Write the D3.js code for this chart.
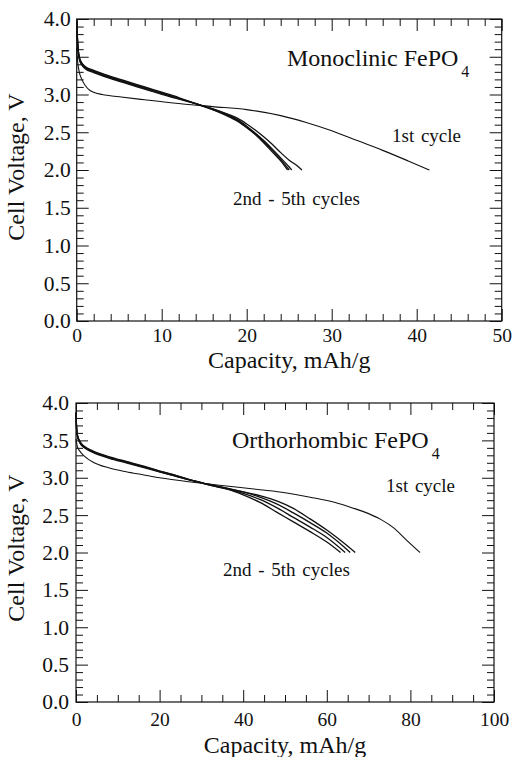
<!DOCTYPE html>
<html>
<head>
<meta charset="utf-8">
<script src="https://cdn.jsdelivr.net/npm/d3@7"></script>
<style>
  body { margin: 0; background: #fff; }
  svg { display: block; font-family: "Liberation Serif", "Times New Roman", serif; }
</style>
</head>
<body>
<svg id="chart" width="516" height="757"></svg>
<script>
// Monoclinic FePO4 (top panel)
const monoCap1 = [0, 0.1, 0.3, 0.6, 1, 1.5, 2, 3, 5, 8, 12, 16, 20, 24, 27, 30, 33, 36, 39, 41.5];
const monoV1   = [3.62, 3.45, 3.30, 3.20, 3.12, 3.06, 3.03, 3.00, 2.97, 2.93, 2.88, 2.84, 2.80, 2.72, 2.63, 2.52, 2.39, 2.26, 2.12, 2.00];

const monoCap2 = [0, 0.1, 0.3, 0.6, 1, 2, 4, 6, 8, 10, 12, 14, 16, 18, 19, 20, 21, 22, 23, 24, 25, 26, 26.5];
const monoV2   = [3.98, 3.68, 3.47, 3.39, 3.34, 3.29, 3.21, 3.14, 3.07, 3.00, 2.94, 2.88, 2.81, 2.73, 2.68, 2.61, 2.53, 2.44, 2.34, 2.23, 2.13, 2.05, 2.00];
const monoCap3 = [0, 0.1, 0.3, 0.6, 1, 2, 4, 6, 8, 10, 12, 14, 16, 18, 19, 20, 21, 22, 23, 24, 25, 25.3];
const monoV3   = [3.98, 3.70, 3.48, 3.40, 3.35, 3.30, 3.22, 3.15, 3.08, 3.01, 2.95, 2.88, 2.81, 2.72, 2.66, 2.58, 2.49, 2.39, 2.28, 2.16, 2.04, 2.00];
const monoCap4 = [0, 0.1, 0.3, 0.6, 1, 2, 4, 6, 8, 10, 12, 14, 16, 18, 19, 20, 21, 22, 23, 24, 25.0];
const monoV4   = [3.97, 3.71, 3.49, 3.41, 3.36, 3.31, 3.23, 3.16, 3.09, 3.02, 2.95, 2.88, 2.80, 2.71, 2.65, 2.57, 2.48, 2.38, 2.26, 2.14, 2.00];
const monoCap5 = [0, 0.1, 0.3, 0.6, 1, 2, 4, 6, 8, 10, 12, 14, 16, 18, 19, 20, 21, 22, 23, 24, 24.8];
const monoV5   = [3.96, 3.72, 3.50, 3.42, 3.37, 3.32, 3.24, 3.17, 3.10, 3.03, 2.96, 2.88, 2.80, 2.70, 2.64, 2.56, 2.47, 2.36, 2.24, 2.12, 2.00];

// Orthorhombic FePO4 (bottom panel)
const orthoCap1 = [0, 0.3, 1, 2, 4, 8, 12, 16, 20, 28, 36, 44, 50, 56, 62, 66, 70, 73, 76, 79, 82.3];
const orthoV1   = [3.52, 3.42, 3.35, 3.29, 3.21, 3.13, 3.08, 3.04, 3.00, 2.94, 2.89, 2.84, 2.80, 2.74, 2.67, 2.60, 2.52, 2.44, 2.33, 2.17, 2.00];

const orthoCap2 = [0, 0.1, 0.3, 1, 2, 4, 8, 12, 16, 20, 24, 28, 32, 36, 40, 44, 48, 52, 56, 60, 64, 66.8];
const orthoV2   = [3.88, 3.70, 3.56, 3.46, 3.40, 3.34, 3.26, 3.20, 3.14, 3.08, 3.02, 2.96, 2.91, 2.86, 2.81, 2.76, 2.69, 2.59, 2.45, 2.30, 2.13, 2.00];
const orthoCap3 = [0, 0.1, 0.3, 1, 2, 4, 8, 12, 16, 20, 24, 28, 32, 36, 40, 44, 48, 52, 56, 60, 64, 65.6];
const orthoV3   = [3.87, 3.71, 3.57, 3.47, 3.41, 3.35, 3.27, 3.21, 3.15, 3.08, 3.02, 2.96, 2.91, 2.86, 2.81, 2.74, 2.65, 2.53, 2.40, 2.26, 2.08, 2.00];
const orthoCap4 = [0, 0.1, 0.3, 1, 2, 4, 8, 12, 16, 20, 24, 28, 32, 36, 40, 44, 48, 52, 56, 60, 64.4];
const orthoV4   = [3.86, 3.72, 3.58, 3.47, 3.41, 3.35, 3.27, 3.21, 3.15, 3.09, 3.03, 2.96, 2.90, 2.85, 2.79, 2.71, 2.60, 2.47, 2.34, 2.20, 2.00];
const orthoCap5 = [0, 0.1, 0.3, 1, 2, 4, 8, 12, 16, 20, 24, 28, 32, 36, 40, 44, 48, 52, 56, 60, 63.3];
const orthoV5   = [3.85, 3.72, 3.58, 3.48, 3.42, 3.36, 3.28, 3.22, 3.16, 3.09, 3.03, 2.96, 2.90, 2.85, 2.77, 2.67, 2.54, 2.41, 2.28, 2.14, 2.00];

const yTickLabels = ['0.0', '0.5', '1.0', '1.5', '2.0', '2.5', '3.0', '3.5', '4.0'];

const zip = (xs, ys) => xs.map((x, i) => [x, ys[i]]);

const panels = [
  {
    left: 76.7, right: 501.7, top: 19, bottom: 321,
    xMax: 50, xMajor: 10, xMinor: 2,
    xLabelPad: 7.5, yLabelPad: 6,
    xTitleY: 368, yTitleCy: 167,
    name: 'Monoclinic FePO', nameX: 287, nameY: 66,
    first: { text: '1st cycle', x: 392, y: 142 },
    rest: { text: '2nd - 5th cycles', x: 233, y: 205 },
    series1: zip(monoCap1, monoV1),
    seriesN: [zip(monoCap2, monoV2), zip(monoCap3, monoV3), zip(monoCap4, monoV4), zip(monoCap5, monoV5)],
  },
  {
    left: 76, right: 494, top: 403, bottom: 702,
    xMax: 100, xMajor: 20, xMinor: 5,
    xLabelPad: 10, yLabelPad: 7,
    xTitleY: 753, yTitleCy: 548,
    name: 'Orthorhombic FePO', nameX: 232, nameY: 448,
    first: { text: '1st cycle', x: 386, y: 492 },
    rest: { text: '2nd - 5th cycles', x: 223, y: 576 },
    series1: zip(orthoCap1, orthoV1),
    seriesN: [zip(orthoCap2, orthoV2), zip(orthoCap3, orthoV3), zip(orthoCap4, orthoV4), zip(orthoCap5, orthoV5)],
  },
];

const svg = d3.select('#chart');
const ink = '#111';

panels.forEach(p => {
  const x = d3.scaleLinear().domain([0, p.xMax]).range([p.left, p.right]);
  const y = d3.scaleLinear().domain([0, 4]).range([p.bottom, p.top]);
  const w = p.right - p.left;
  const h = p.bottom - p.top;
  const g = svg.append('g');

  const xMinorTicks = d3.range(0, p.xMax + 0.001, p.xMinor).filter(v => Math.abs(v % p.xMajor) > 1e-6);
  const xMajorTicks = d3.range(0, p.xMax + 0.001, p.xMajor);
  const yMinorTicks = d3.range(0, 4.001, 0.1).filter(v => Math.abs((v * 10) % 5) > 1e-6);
  const yMajorTicks = d3.range(0, 4.001, 0.5);

  const styleAxis = (sel, size = 19) => {
    sel.select('.domain').remove();
    sel.selectAll('line').attr('stroke', ink).attr('stroke-width', 1);
    sel.selectAll('text').attr('fill', ink).attr('font-size', size)
      .attr('font-family', '"Liberation Serif", serif');
  };

  // bottom / top ticks
  g.append('g').attr('transform', `translate(0,${p.bottom})`)
    .call(d3.axisBottom(x).tickValues(xMinorTicks).tickSize(-7).tickFormat(''))
    .call(styleAxis);
  g.append('g').attr('transform', `translate(0,${p.bottom})`)
    .call(d3.axisBottom(x).tickValues(xMajorTicks).tickSize(-12).tickPadding(p.xLabelPad).tickFormat(d3.format('d')))
    .call(styleAxis, 19.5);
  g.append('g').attr('transform', `translate(0,${p.top})`)
    .call(d3.axisTop(x).tickValues(xMinorTicks).tickSize(-7).tickFormat(''))
    .call(styleAxis);
  g.append('g').attr('transform', `translate(0,${p.top})`)
    .call(d3.axisTop(x).tickValues(xMajorTicks).tickSize(-12).tickFormat(''))
    .call(styleAxis);

  // left / right ticks
  g.append('g').attr('transform', `translate(${p.left},0)`)
    .call(d3.axisLeft(y).tickValues(yMinorTicks).tickSize(-7).tickFormat(''))
    .call(styleAxis);
  g.append('g').attr('transform', `translate(${p.left},0)`)
    .call(d3.axisLeft(y).tickValues(yMajorTicks).tickSize(-12).tickPadding(p.yLabelPad)
      .tickFormat((d, i) => yTickLabels[i]))
    .call(styleAxis, 21.5);
  g.append('g').attr('transform', `translate(${p.right},0)`)
    .call(d3.axisRight(y).tickValues(yMinorTicks).tickSize(-7).tickFormat(''))
    .call(styleAxis);
  g.append('g').attr('transform', `translate(${p.right},0)`)
    .call(d3.axisRight(y).tickValues(yMajorTicks).tickSize(-12).tickFormat(''))
    .call(styleAxis);

  // frame
  g.append('rect')
    .attr('x', p.left).attr('y', p.top).attr('width', w).attr('height', h)
    .attr('fill', 'none').attr('stroke', ink).attr('stroke-width', 1.2);

  const line = d3.line().x(d => x(d[0])).y(d => y(d[1])).curve(d3.curveMonotoneX);

  g.append('path').datum(p.series1)
    .attr('d', line).attr('fill', 'none').attr('stroke', ink).attr('stroke-width', 1.1);

  g.selectAll('path.cyc').data(p.seriesN).join('path')
    .attr('class', 'cyc')
    .attr('d', line).attr('fill', 'none').attr('stroke', ink).attr('stroke-width', 1.3);

  // axis titles
  g.append('text')
    .attr('x', (p.left + p.right) / 2).attr('y', p.xTitleY)
    .attr('text-anchor', 'middle').attr('font-size', 24).attr('fill', ink)
    .text('Capacity, mAh/g');
  g.append('text')
    .attr('transform', `translate(24,${p.yTitleCy}) rotate(-90)`)
    .attr('text-anchor', 'middle').attr('font-size', 24).attr('fill', ink)
    .text('Cell Voltage, V');

  // annotations
  const nm = g.append('text')
    .attr('x', p.nameX).attr('y', p.nameY)
    .attr('font-size', 24).attr('fill', ink);
  nm.append('tspan').text(p.name);
  nm.append('tspan').attr('dx', 3).attr('dy', 11).attr('font-size', 16).text('4');

  g.append('text')
    .attr('x', p.first.x).attr('y', p.first.y)
    .attr('font-size', 19).attr('word-spacing', 2).attr('fill', ink)
    .text(p.first.text);
  g.append('text')
    .attr('x', p.rest.x).attr('y', p.rest.y)
    .attr('font-size', 19).attr('word-spacing', 2).attr('fill', ink)
    .text(p.rest.text);
});
</script>
</body>
</html>
